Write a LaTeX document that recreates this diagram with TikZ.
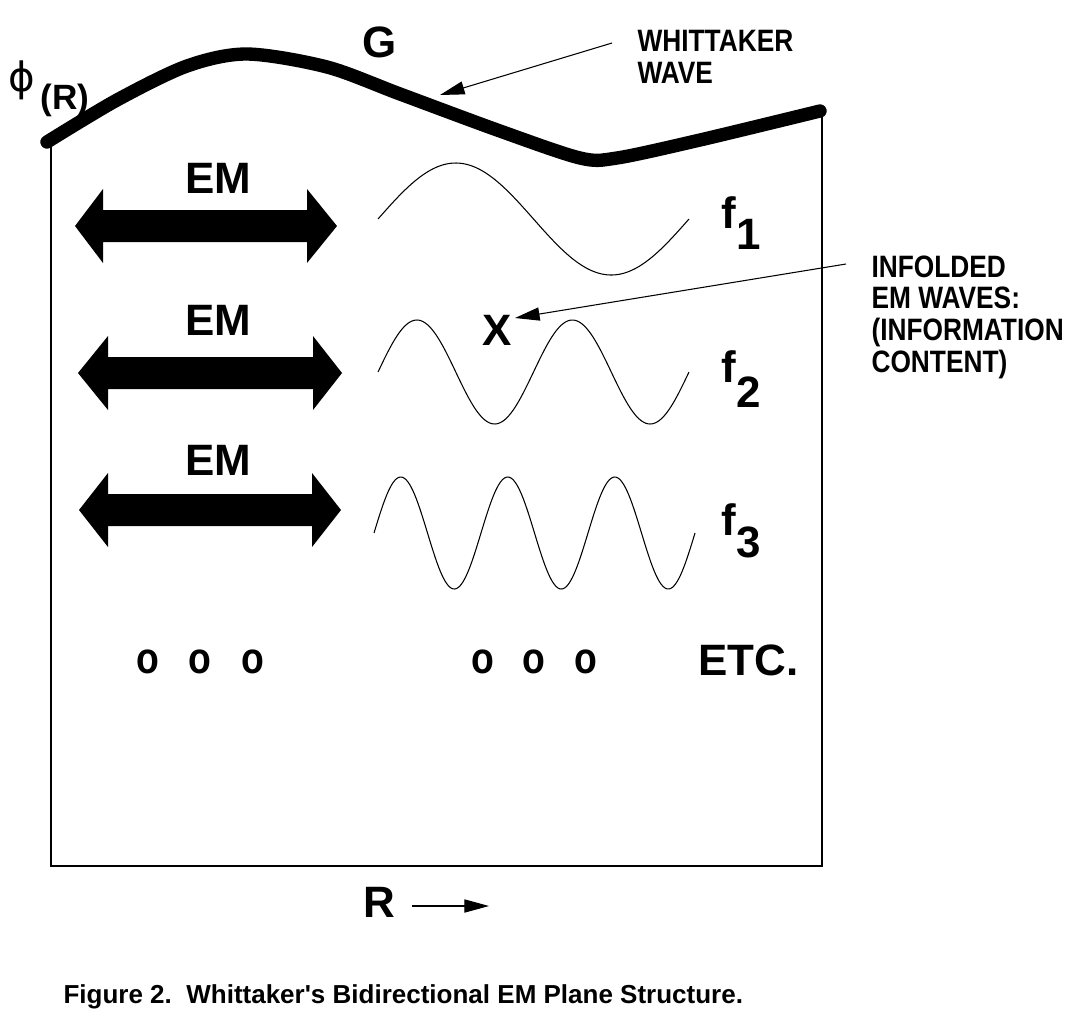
\documentclass[tikz,border=0pt]{standalone}
\usepackage{fontspec}
\setmainfont{Liberation Sans}
\newfontfamily\narrowfont{Liberation Sans}[FakeStretch=0.85]
\newfontfamily\greekfont{DejaVu Sans}
\usetikzlibrary{arrows.meta}
\tikzset{
  every node/.style={text=black, inner sep=0pt, font=\bfseries},
  every path/.style={line width=0.6pt},
  bigtext/.style={font=\fontsize{25pt}{28pt}\selectfont\bfseries},
  smalltext/.style={font=\narrowfont\fontsize{17.6pt}{18pt}\selectfont\bfseries, align=left},
  leader/.style={-{Triangle[length=14pt, width=7.5pt]}}
}

\begin{document}
\begin{tikzpicture}[x=0.02cm, y=-0.02cm]
  \useasboundingbox (0,0) rectangle (1074,1018);

  % Frame and Whittaker wave
  \draw (51,143) -- (51,866) -- (822,866) -- (822,113);
  \draw[line width=7.6pt, line cap=round] plot[smooth, tension=0.5] coordinates {
    (47,142) (117,100) (187,66) (247,54) (327,67) (400,94) (500,131)
    (580,158) (617,158) (700,140) (820,111)};

  % EM double arrows
  \foreach \cy/\l/\lb/\rb/\r in {226/75/103/307/337, 373/78/108/313/342, 510/79/108/312/341}
    \fill (\l,\cy) -- (\lb,\cy-37) -- (\lb,\cy-16) -- (\rb,\cy-16) -- (\rb,\cy-37) -- (\r,\cy)
      -- (\rb,\cy+37) -- (\rb,\cy+16) -- (\lb,\cy+16) -- (\lb,\cy+37) -- cycle;

  % EM waves
  \draw[domain=0:311, samples=120] plot ({378+\x}, {219-56*sin(\x/311*360)});
  \draw[domain=0:311, samples=160] plot ({378+\x}, {372-52*sin(2*\x/311*360)});
  \draw[domain=0:321, samples=200] plot ({374+\x}, {533-56*sin(3*\x/321*360)});

  % Nodes
  \node (G) [bigtext, anchor=base] at (380,57) {G};
  \node (phi) [font=\greekfont\fontsize{23pt}{24pt}\selectfont] at (22,80) {ϕ};
  \node (phiarg) [font=\fontsize{20pt}{22pt}\selectfont\bfseries, anchor=base] at (65,109) {(R)};
  \node (whit) [smalltext, anchor=north west] at (637,30) {WHITTAKER\\WAVE};
  \node (infold) [smalltext, anchor=north west] at (871,255) {INFOLDED\\EM WAVES:\\(INFORMATION\\CONTENT)};
  \foreach \by [count=\i] in {193, 335, 475}
    \node (em\i) [bigtext, anchor=base] at (218,\by) {EM};
  \foreach \by/\sb [count=\i] in {228/-12.5pt, 382/-14.5pt, 535/-13pt}
    \node (f\i) [bigtext, anchor=base west] at (721,\by) {f\raisebox{\sb}{\i}};
  \node (xmark) [bigtext, anchor=base] at (497,345) {X};
  \foreach \ox in {148,200,253,483,534,586}
    \node (dot\ox) [font=\narrowfont\fontsize{25pt}{28pt}\selectfont\bfseries] at (\ox,662) {o};
  \node (etc) [bigtext, anchor=base west] at (698,675) {ETC.};
  \node (rlab) [bigtext, anchor=base] at (379,917) {R};
  \node (caption) [font=\fontsize{14.8pt}{16pt}\selectfont\bfseries, anchor=base west] at (63,1003)
    {Figure 2.\ \ Whittaker\textquotesingle s Bidirectional EM Plane Structure.};

  % Leaders
  \coordinate (whitfrom) at (612,43);
  \coordinate (whitto) at (440,95);
  \coordinate (infoldfrom) at (846,264);
  \coordinate (infoldto) at (515,318);
  \coordinate (rfrom) at (412,906);
  \coordinate (rto) at (489,906);
  \draw[leader] (whitfrom) -- (whitto);
  \draw[leader] (infoldfrom) -- (infoldto);
  \draw[leader] (rfrom) -- (rto);
\end{tikzpicture}
\end{document}
